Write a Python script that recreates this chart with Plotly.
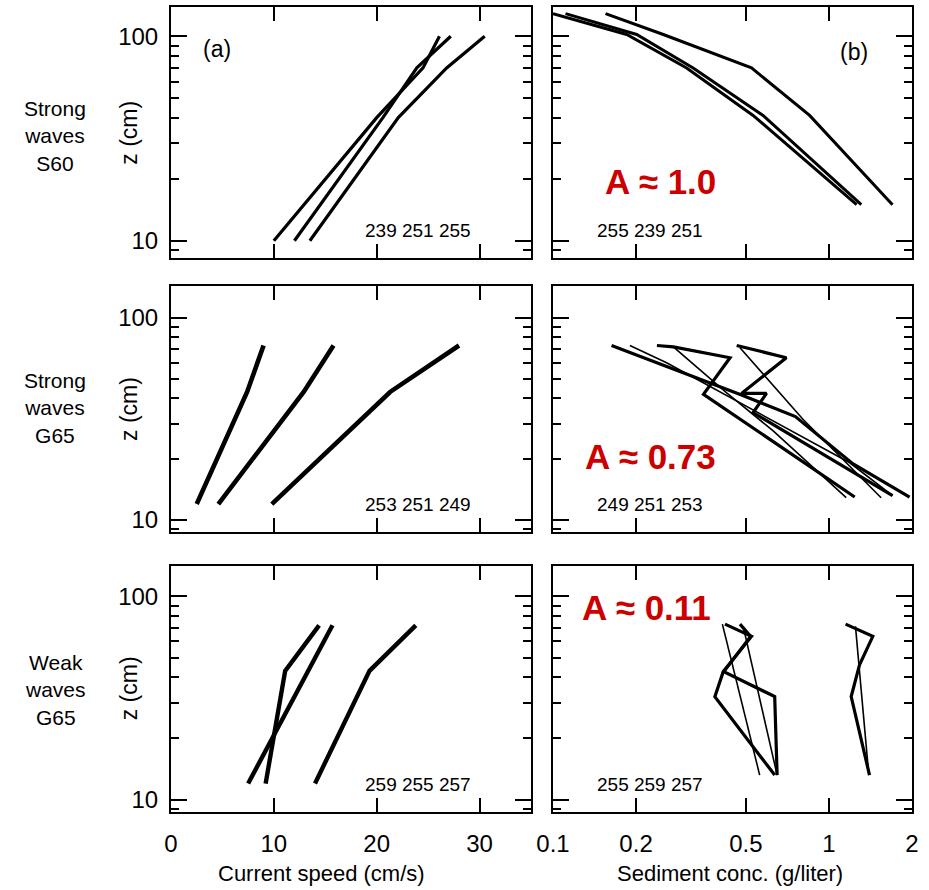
import plotly.graph_objects as go

# ---------------- data ----------------
# Row 1 : strong waves, S60
z_cur_s60 = [10, 40, 70, 100]
cur_s60_239 = [10.0, 20.0, 24.5, 26.1]
cur_s60_251 = [12.0, 20.6, 23.9, 27.2]
cur_s60_255 = [13.5, 22.1, 26.8, 30.5]

z_sed_s60 = [15, 41, 70, 102, 129]
sed_s60_255 = [1.26, 0.531, 0.305, 0.185, 0.100]
sed_s60_239 = [1.31, 0.577, 0.322, 0.201, 0.111]
sed_s60_251 = [1.70, 0.851, 0.524, 0.251, 0.155]

# Row 2 : strong waves, G65
z_cur_g65s = [12, 43, 73]
cur_g65s_253 = [2.5, 7.4, 9.0]
cur_g65s_251 = [4.6, 12.9, 15.8]
cur_g65s_249 = [9.8, 21.3, 28.0]

z_sed_249_thick = [73, 63.5, 53.5, 42, 32.5, 19, 13]
sed_249_thick = [0.163, 0.213, 0.295, 0.472, 0.756, 1.22, 1.96]
z_sed_251_thick = [73, 71.9, 63.5, 47.8, 41.9, 13]
sed_251_thick = [0.238, 0.273, 0.438, 0.376, 0.351, 1.24]
z_sed_253_thick = [73, 63.5, 42.3, 42.3, 34.0, 13.2]
sed_253_thick = [0.463, 0.701, 0.482, 0.594, 0.531, 1.70]
z_sed_249_thin = [73, 60, 19.2, 13.2]
sed_249_thin = [0.190, 0.258, 1.19, 1.70]
z_sed_251_thin = [71.9, 42.6, 27.6, 12.9]
sed_251_thin = [0.273, 0.426, 0.628, 1.155]
z_sed_253_thin = [71.1, 31.5, 12.9]
sed_253_thin = [0.476, 0.805, 1.546]

# Row 3 : weak waves, G65
z_cur_g65w = [12, 43, 72]
cur_g65w_259 = [7.5, 13.3, 15.7]
cur_g65w_255 = [9.2, 11.1, 14.4]
cur_g65w_257 = [14.0, 19.3, 23.8]

z_sed_w_a = [73, 63.5, 42.6, 32.1, 13.2]
sed_w_255_thick = [0.420, 0.524, 0.414, 0.386, 0.636]
sed_w_259_thick = [0.476, 0.520, 0.416, 0.636, 0.649]
z_sed_w_255_thin = [73, 13.2]
sed_w_255_thin = [0.411, 0.561]
z_sed_w_259_thin = [71.1, 13.2]
sed_w_259_thin = [0.489, 0.649]
z_sed_w_257_thick = [73, 63.5, 46.0, 32.1, 13.2]
sed_w_257_thick = [1.149, 1.442, 1.291, 1.204, 1.403]
z_sed_w_257_thin = [71.1, 38.1, 13.2]
sed_w_257_thin = [1.248, 1.298, 1.395]

row_labels = ["Strong<br>waves<br>S60", "Strong<br>waves<br>G65", "Weak<br>waves<br>G65"]
run_labels_cur = ["239 251 255", "253 251 249", "259 255 257"]
run_labels_sed = ["255 239 251", "249 251 253", "255 259 257"]
a_labels = ["A \u2248 1.0", "A \u2248 0.73", "A \u2248 0.11"]
cur_ticks = [0, 10, 20, 30]
sed_ticks = [0.1, 0.2, 0.5, 1, 2]
sed_ticktext = ["0.1", "0.2", "0.5", "1", "2"]

# ---------------- layout geometry ----------------
FONT = "Liberation Sans, Arial, Helvetica, sans-serif"
L, R, T, B = 171, 912, 5, 812
W, H = R - L, B - T

def px_x(p):
    return (p - L) / W

def px_y(p):
    return (B - p) / H

xdom = {1: [0, px_x(531)], 2: [px_x(553), 1]}
ydom = {1: [px_y(256.7), 1], 2: [px_y(531.7), px_y(285)], 3: [0, px_y(565)]}
yrng = {1: [0.915, 2.143], 2: [0.939, 2.156], 3: [0.939, 2.151]}

fig = go.Figure()

def add(i, xs, ys, w):
    fig.add_trace(go.Scatter(x=xs, y=ys, mode="lines",
                             line=dict(color="black", width=w),
                             xaxis="x%d" % i, yaxis="y%d" % i,
                             showlegend=False, hoverinfo="skip"))

# panel 1
for s in (cur_s60_239, cur_s60_251, cur_s60_255):
    add(1, s, z_cur_s60, 3.2)
# panel 2
for s in (sed_s60_255, sed_s60_239, sed_s60_251):
    add(2, s, z_sed_s60, 3)
# panel 3
for s in (cur_g65s_253, cur_g65s_251, cur_g65s_249):
    add(3, s, z_cur_g65s, 4.6)
# panel 4
add(4, sed_249_thin, z_sed_249_thin, 1.6)
add(4, sed_251_thin, z_sed_251_thin, 1.6)
add(4, sed_253_thin, z_sed_253_thin, 1.6)
add(4, sed_249_thick, z_sed_249_thick, 3.2)
add(4, sed_251_thick, z_sed_251_thick, 3.2)
add(4, sed_253_thick, z_sed_253_thick, 3.2)
# panel 5
for s in (cur_g65w_259, cur_g65w_255, cur_g65w_257):
    add(5, s, z_cur_g65w, 4.4)
# panel 6
add(6, sed_w_255_thin, z_sed_w_255_thin, 1.6)
add(6, sed_w_259_thin, z_sed_w_259_thin, 1.6)
add(6, sed_w_257_thin, z_sed_w_257_thin, 1.6)
add(6, sed_w_255_thick, z_sed_w_a, 3.2)
add(6, sed_w_259_thick, z_sed_w_a, 3.2)
add(6, sed_w_257_thick, z_sed_w_257_thick, 3.2)

layout = dict(width=929, height=890, autosize=False,
              margin=dict(l=L, r=929 - R, t=T, b=890 - B),
              paper_bgcolor="white", plot_bgcolor="white",
              font=dict(family=FONT, color="black"))

tickfont = dict(family=FONT, size=24, color="black")
for r in (1, 2, 3):
    for c in (1, 2):
        i = 2 * (r - 1) + c
        key = "" if i == 1 else str(i)
        xa = dict(domain=xdom[c], anchor="y%d" % i, showline=True, linewidth=2,
                  linecolor="black", mirror="ticks", ticks="inside", ticklen=14,
                  tickwidth=2, tickcolor="black", showgrid=False, zeroline=False,
                  showticklabels=(r == 3), tickfont=tickfont, ticklabelstandoff=9)
        if c == 1:
            xa.update(type="linear", range=[0, 35], tickmode="array", tickvals=cur_ticks,
                      ticktext=[str(v) for v in cur_ticks])
        else:
            xa.update(type="log", range=[-1, 0.30103], tickmode="array", tickvals=sed_ticks,
                      ticktext=sed_ticktext)
        ya = dict(domain=ydom[r], anchor="x%d" % i, type="log", range=yrng[r],
                  showline=True, linewidth=2, linecolor="black", mirror="ticks",
                  ticks="inside", ticklen=16, tickwidth=2, tickcolor="black",
                  tickmode="array", tickvals=[10, 100], ticktext=["10", "100"],
                  minor=dict(ticks="inside", ticklen=8, tickwidth=2, tickcolor="black",
                             tickmode="array", tickvals=[9, 20, 30, 40, 50, 60, 70, 80, 90],
                             showgrid=False),
                  showgrid=False, zeroline=False, showticklabels=(c == 1),
                  tickfont=tickfont, ticklabelstandoff=6)
        layout["xaxis" + key] = xa
        layout["yaxis" + key] = ya

ann = []

def A(text, xp, yp, size, color="black", bold=False, angle=0, xanchor="center"):
    if bold:
        text = "<b>%s</b>" % text
    ann.append(dict(text=text, x=px_x(xp), y=px_y(yp), xref="paper", yref="paper",
                    showarrow=False, textangle=angle, xanchor=xanchor, yanchor="middle",
                    font=dict(family=FONT, size=size, color=color)))

row_centers = [131, 408, 688]
row_label_y = [134, 407, 690]
for r in range(3):
    A(row_labels[r], 55, row_label_y[r], 21)
    A("z (cm)", 129, row_centers[r], 23, angle=-90)

A("(a)", 217, 47, 23)
A("(b)", 854, 50, 23)
run_y = [229, 504, 784]
for r in range(3):
    A(run_labels_cur[r], 418, run_y[r], 19)
    A(run_labels_sed[r], 650, run_y[r], 19)
a_pos = [(660, 180), (650, 456), (646, 607)]
for r in range(3):
    A(a_labels[r], a_pos[r][0], a_pos[r][1], 35, color="#cc0000", bold=True)

A("Current speed (cm/s)", 321, 874, 22)
A("Sediment conc. (g/liter)", 730, 874, 22)

layout["annotations"] = ann
fig.update_layout(**layout)
fig.write_html("out.html")
